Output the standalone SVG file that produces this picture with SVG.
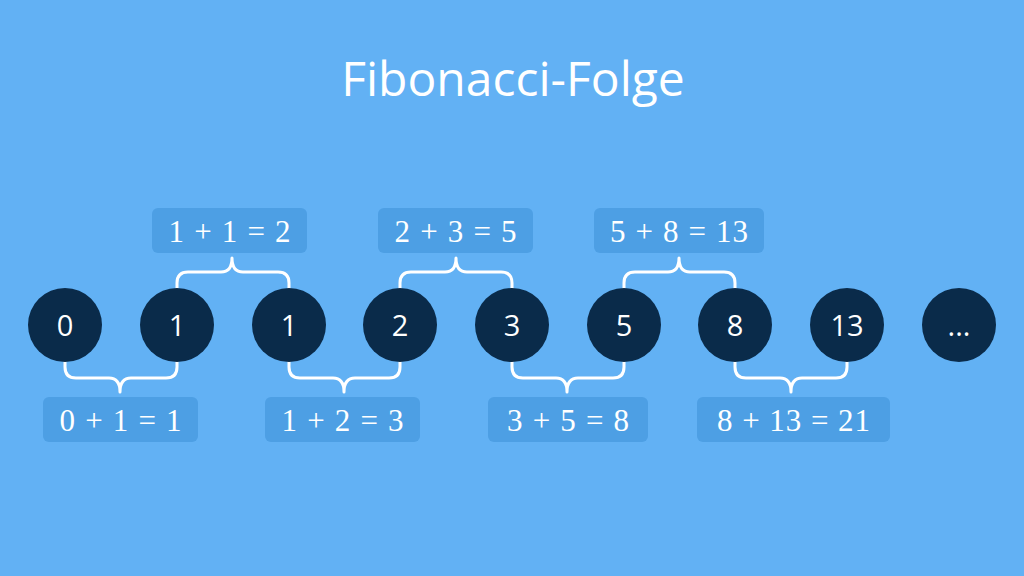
<svg xmlns="http://www.w3.org/2000/svg" width="1024" height="576" viewBox="0 0 1024 576">
<style>
.bg{fill:#62b1f4}
.title{font-family:"Open Sans","Noto Sans",sans-serif;font-size:48px;fill:#ffffff;text-anchor:middle}
.node circle{fill:#0a2b4a}
.node text{font-family:"Open Sans","Noto Sans",sans-serif;font-size:29px;fill:#ffffff;text-anchor:middle}
.box rect{fill:#4d9fe4}
.box text{font-family:"Liberation Serif","Times New Roman",serif;font-size:31px;fill:#ffffff;text-anchor:middle}
.brace{fill:none;stroke:#ffffff;stroke-width:3;stroke-linecap:round;stroke-linejoin:round}
</style>
<rect class="bg" x="0" y="0" width="1024" height="576"/>
<text class="title" x="513" y="96">Fibonacci-Folge</text>
<g id="connectors">
<path class="brace" d="M65,360 V367 Q65,378 76,378 H109 Q120,378 120,392 Q120,378 131,378 H166 Q177,378 177,367 V360"/>
<path class="brace" d="M289,360 V367 Q289,378 300,378 H333 Q344,378 344,392 Q344,378 355,378 H389 Q400,378 400,367 V360"/>
<path class="brace" d="M512,360 V367 Q512,378 523,378 H556 Q567,378 567,392 Q567,378 578,378 H613 Q624,378 624,367 V360"/>
<path class="brace" d="M735,360 V367 Q735,378 746,378 H780 Q791,378 791,392 Q791,378 802,378 H836 Q847,378 847,367 V360"/>
<path class="brace" d="M177,290 V283 Q177,272 188,272 H221 Q232,272 232,258 Q232,272 243,272 H278 Q289,272 289,283 V290"/>
<path class="brace" d="M400,290 V283 Q400,272 411,272 H445 Q456,272 456,258 Q456,272 467,272 H501 Q512,272 512,283 V290"/>
<path class="brace" d="M624,290 V283 Q624,272 635,272 H668 Q679,272 679,258 Q679,272 690,272 H724 Q735,272 735,283 V290"/>
</g>
<g id="node-0" class="node"><circle cx="65" cy="325" r="37"/><text x="65" y="336">0</text></g>
<g id="node-1" class="node"><circle cx="177" cy="325" r="37"/><text x="177" y="336">1</text></g>
<g id="node-2" class="node"><circle cx="289" cy="325" r="37"/><text x="289" y="336">1</text></g>
<g id="node-3" class="node"><circle cx="400" cy="325" r="37"/><text x="400" y="336">2</text></g>
<g id="node-4" class="node"><circle cx="512" cy="325" r="37"/><text x="512" y="336">3</text></g>
<g id="node-5" class="node"><circle cx="624" cy="325" r="37"/><text x="624" y="336">5</text></g>
<g id="node-6" class="node"><circle cx="735" cy="325" r="37"/><text x="735" y="336">8</text></g>
<g id="node-7" class="node"><circle cx="847" cy="325" r="37"/><text x="847" y="336">13</text></g>
<g id="node-8" class="node"><circle cx="959" cy="325" r="37"/><text x="959" y="336">...</text></g>
<g id="label-011" class="box"><rect x="43" y="397" width="155" height="45" rx="6"/><text x="120.5" y="431" textLength="122" lengthAdjust="spacing">0 + 1 = 1</text></g>
<g id="label-123" class="box"><rect x="265" y="397" width="155" height="45" rx="6"/><text x="342.5" y="431" textLength="122" lengthAdjust="spacing">1 + 2 = 3</text></g>
<g id="label-358" class="box"><rect x="488" y="397" width="160" height="45" rx="6"/><text x="568" y="431" textLength="122" lengthAdjust="spacing">3 + 5 = 8</text></g>
<g id="label-81321" class="box"><rect x="697" y="397" width="193" height="45" rx="6"/><text x="793.5" y="431" textLength="153" lengthAdjust="spacing">8 + 13 = 21</text></g>
<g id="label-112" class="box"><rect x="152" y="208" width="155" height="45" rx="6"/><text x="229.5" y="242" textLength="122" lengthAdjust="spacing">1 + 1 = 2</text></g>
<g id="label-235" class="box"><rect x="378" y="208" width="155" height="45" rx="6"/><text x="455.5" y="242" textLength="122" lengthAdjust="spacing">2 + 3 = 5</text></g>
<g id="label-5813" class="box"><rect x="594" y="208" width="170" height="45" rx="6"/><text x="679" y="242" textLength="138" lengthAdjust="spacing">5 + 8 = 13</text></g>
</svg>
